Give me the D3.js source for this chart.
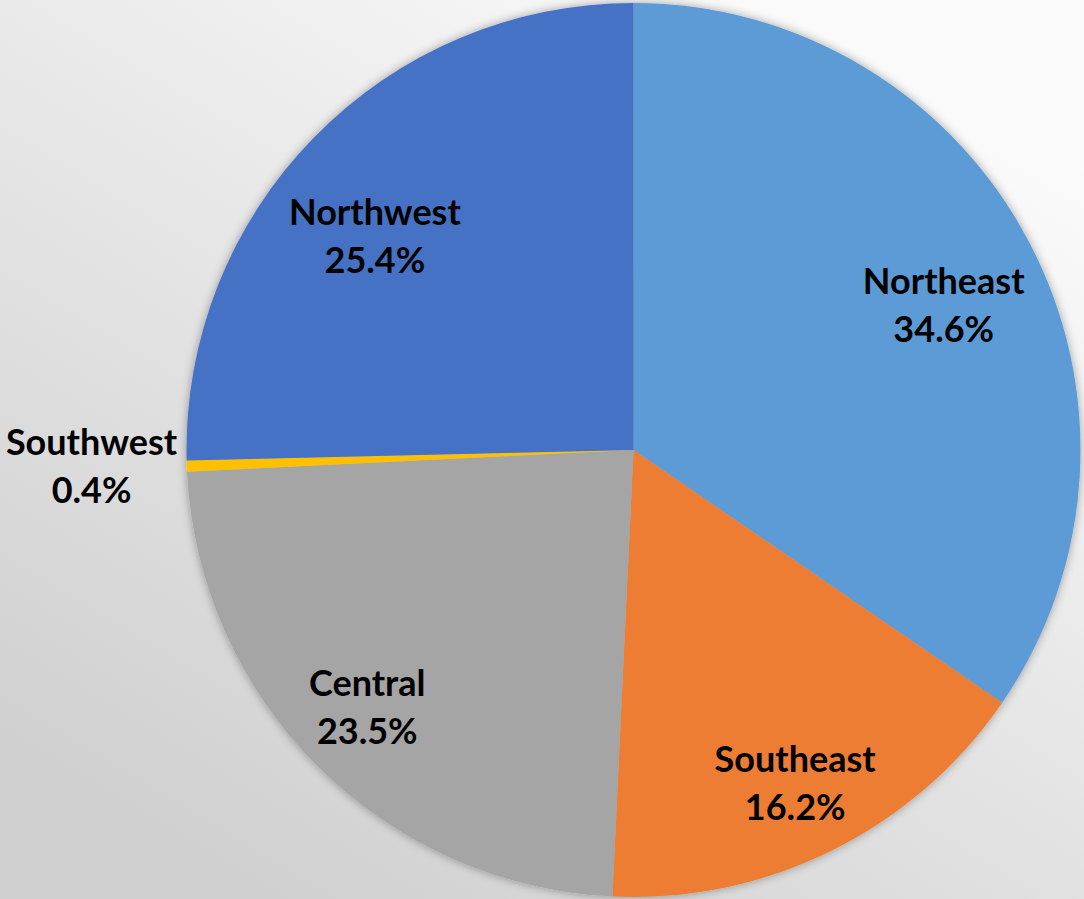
<!DOCTYPE html>
<html>
<head>
<meta charset="utf-8">
<script src="https://cdn.jsdelivr.net/npm/d3@7"></script>
<style>
  html, body { margin: 0; padding: 0; background: #e6e6e6; }
  svg { display: block; }
  text { font-family: Lato, "Open Sans", sans-serif; font-weight: 700; fill: #000; }
</style>
</head>
<body>
<svg id="chart" width="1084" height="899"></svg>
<script>
// ---- data ----
const categories = ["Northeast", "Southeast", "Central", "Southwest", "Northwest"];
const shares = [34.6, 16.2, 23.5, 0.4, 25.4];
const labels = ["34.6%", "16.2%", "23.5%", "0.4%", "25.4%"];
const colors = ["#5B9BD5", "#ED7D31", "#A5A5A5", "#FFC000", "#4472C4"];

// ---- layout (label placement, in polar terms relative to each slice) ----
const labelRadiusFactor = [0.765, 0.83, 0.83, 1.213, 0.75];
const labelAngleNudgeDeg = [2.9, 0.6, 0.9, 0.3, -4.8];

const W = 1084, H = 899;
const cx = 633.5, cy = 450, R = 447;

const svg = d3.select("#chart");
const defs = svg.append("defs");

const grad = defs.append("linearGradient")
  .attr("id", "bg").attr("gradientUnits", "userSpaceOnUse")
  .attr("x1", 820).attr("y1", 0).attr("x2", 280).attr("y2", 899);
grad.append("stop").attr("offset", 0).attr("stop-color", "#fbfbfb");
grad.append("stop").attr("offset", 1).attr("stop-color", "#d0d0d0");

const f = defs.append("filter").attr("id", "shadow")
  .attr("x", "-10%").attr("y", "-10%").attr("width", "120%").attr("height", "120%");
f.append("feGaussianBlur").attr("in", "SourceAlpha").attr("stdDeviation", 5).attr("result", "b");
f.append("feComponentTransfer").attr("in", "b").attr("result", "c")
  .append("feFuncA").attr("type", "linear").attr("slope", 0.35);
const fm = f.append("feMerge");
fm.append("feMergeNode").attr("in", "c");
fm.append("feMergeNode").attr("in", "SourceGraphic");

svg.append("rect").attr("width", W).attr("height", H).attr("fill", "url(#bg)");

const data = categories.map((c, i) => ({ name: c, value: shares[i], label: labels[i], color: colors[i], i }));

const pie = d3.pie().sort(null).value(d => d.value);
const arcs = pie(data);
const arc = d3.arc().innerRadius(0).outerRadius(R);

const g = svg.append("g").attr("transform", `translate(${cx},${cy})`);

g.append("g").attr("filter", "url(#shadow)")
  .selectAll("path").data(arcs).join("path")
  .attr("d", arc)
  .attr("fill", d => d.data.color);

const fontSize = 36, lineGap = 48;
const lbl = g.selectAll("g.lbl").data(arcs).join("g").attr("class", "lbl")
  .attr("transform", d => {
    const i = d.data.i;
    const a = (d.startAngle + d.endAngle) / 2 + labelAngleNudgeDeg[i] * Math.PI / 180;
    const r = R * labelRadiusFactor[i];
    return `translate(${r * Math.sin(a)},${-r * Math.cos(a)})`;
  });

lbl.append("text")
  .attr("text-anchor", "middle")
  .attr("font-size", fontSize)
  .attr("y", -lineGap / 2 + 12)
  .text(d => d.data.name);
lbl.append("text")
  .attr("text-anchor", "middle")
  .attr("font-size", fontSize)
  .attr("y", lineGap / 2 + 12)
  .text(d => d.data.label);
</script>
</body>
</html>
